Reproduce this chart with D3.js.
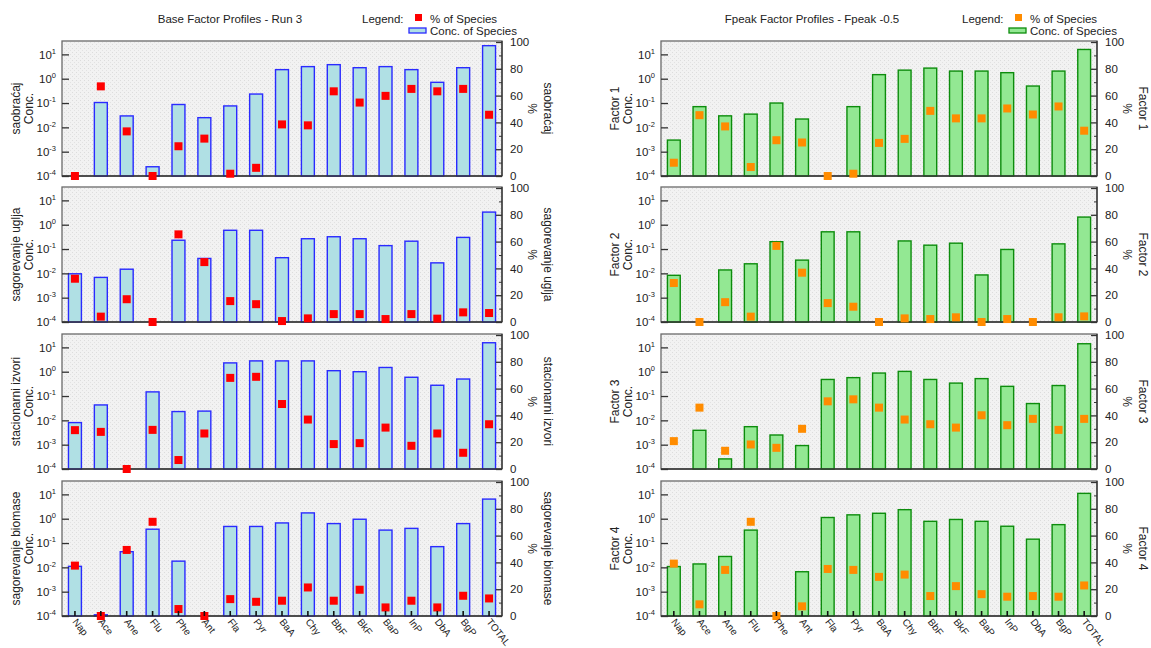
<!DOCTYPE html>
<html lang="en">
<head>
<meta charset="UTF-8">
<title>Factor Profiles</title>
<script src="https://d3js.org/d3.v7.min.js"></script>
<style>
  body { margin: 0; background: #fff; }
  svg { display: block; font-family: Arial, "Liberation Sans", sans-serif; }
  text { fill: #222; }
</style>
</head>
<body>
<svg id="chart" width="1151" height="648"></svg>
<script>
const species = ["Nap","Ace","Ane","Flu","Phe","Ant","Fla","Pyr","BaA","Chy","BbF","BkF","BaP","InP","DbA","BgP","TOTAL"];

// Base Factor Profiles - Run 3 (conc. on log axis, % of species on right axis)
const baseNames = ["saobraćaj", "sagorevanje uglja", "stacionarni izvori", "sagorevanje biomase"];
const saobracajConc = [null, 0.105, 0.0295, 0.00024, 0.087, 0.025, 0.076, 0.234, 2.36, 3.14, 3.78, 2.83, 3.14, 2.36, 0.71, 2.83, 22.8];
const saobracajPct  = [0, 66.9, 33.3, 0, 22.2, 27.9, 1.7, 6.1, 38.5, 37.8, 63.2, 54.8, 59.8, 65, 63.2, 65, 45.7];
const ugljaConc = [0.0096, 0.0068, 0.0148, null, 0.23, 0.041, 0.59, 0.59, 0.044, 0.265, 0.32, 0.265, 0.138, 0.21, 0.027, 0.30, 3.3];
const ugljaPct  = [32.3, 4, 17, 0, 65.4, 44.7, 15.6, 13.3, 0.7, 2.7, 5.9, 5.9, 2.2, 5.9, 2.5, 7.2, 6.7];
const stacionarniConc = [0.0081, 0.043, null, 0.148, 0.023, 0.024, 2.3, 2.78, 2.78, 2.78, 1.1, 1.0, 1.49, 0.59, 0.277, 0.5, 15.5];
const stacionarniPct  = [29, 27.7, 0, 29.2, 6.7, 26.5, 68, 68.8, 48.5, 36.9, 18.6, 19.3, 30.9, 17.3, 26.5, 12.1, 33.4];
const biomaseConc = [0.011, 0.000112, 0.044, 0.37, 0.018, null, 0.48, 0.48, 0.67, 1.73, 0.63, 0.95, 0.34, 0.40, 0.071, 0.63, 6.4];
const biomasePct  = [37.6, 0, 49.3, 70.3, 5.2, 0, 12.6, 10.6, 11.4, 21.3, 11.4, 19.6, 6.4, 11.4, 6.4, 15.1, 13.1];

// Fpeak Factor Profiles - Fpeak -0.5
const fpeakNames = ["Factor 1", "Factor 2", "Factor 3", "Factor 4"];
const factor1Conc = [0.003, 0.071, 0.0297, 0.035, 0.1, 0.022, null, 0.071, 1.47, 2.25, 2.73, 2.06, 2.06, 1.77, 0.5, 2.06, 15.9];
const factor1Pct  = [9.9, 45.4, 37, 6.7, 26.7, 25, 0, 1.7, 24.7, 27.7, 48.6, 43, 43, 50.4, 45.9, 51.9, 33.8];
const factor2Conc = [0.0083, null, 0.0138, 0.0247, 0.2, 0.035, 0.51, 0.51, null, 0.215, 0.144, 0.174, 0.0086, 0.096, null, 0.163, 2.06];
const factor2Pct  = [29.1, 0, 14.8, 4, 56.8, 36.8, 14.1, 11.4, 0, 2.7, 2.2, 3.5, 0, 2.2, 0, 3.5, 4.2];
const factor3Conc = [null, 0.0039, 0.00026, 0.0055, 0.0025, 0.00092, 0.48, 0.57, 0.88, 1.03, 0.48, 0.34, 0.52, 0.25, 0.049, 0.27, 14.1];
const factor3Pct  = [20.8, 45.8, 13.6, 18.3, 15.8, 30, 50.5, 52, 45.8, 36.9, 33.4, 30.9, 40.1, 32.7, 37.4, 29.2, 37.4];
const factor4Conc = [0.0108, 0.0138, 0.028, 0.34, null, 0.0066, 1.12, 1.44, 1.67, 2.35, 0.78, 0.93, 0.78, 0.49, 0.144, 0.57, 11];
const factor4Pct  = [39.1, 8.7, 34.4, 70.3, 0, 7.2, 35.1, 34.4, 29.2, 30.9, 14.9, 22.3, 16.3, 14.4, 14.9, 14.4, 22.8];

const decades = [1e-4, 1e-3, 1e-2, 1e-1, 1, 10];
const panelTops = [41, 187, 334, 481];
const panelH = 135;

const svg = d3.select("#chart");

// dithered grey plot background
const pat = svg.append("defs").append("pattern")
  .attr("id", "dots").attr("width", 4).attr("height", 4)
  .attr("patternUnits", "userSpaceOnUse");
pat.append("rect").attr("width", 4).attr("height", 4).attr("fill", "#f2f2f2");
pat.append("rect").attr("x", 0).attr("y", 0).attr("width", 1).attr("height", 1).attr("fill", "#dcdcdc");
pat.append("rect").attr("x", 2).attr("y", 2).attr("width", 1).attr("height", 1).attr("fill", "#e2e2e2");

function drawPanel(p) {
  const top = p.top, bottom = p.top + panelH;
  const g = svg.append("g");

  const x = d3.scaleBand().domain(species).range([p.x0, p.x1])
    .paddingInner(0.5).paddingOuter(0.25);
  const y = d3.scaleLog().domain([1e-4, Math.pow(10, 1.55)]).range([bottom, top]);
  const yp = d3.scaleLinear().domain([0, 100]).range([bottom, top + 1]);

  g.append("rect")
    .attr("x", p.x0).attr("y", top)
    .attr("width", p.x1 - p.x0).attr("height", panelH)
    .attr("fill", "url(#dots)")
    .attr("stroke", "#6a6a6a").attr("stroke-width", 1.3);

  // bars
  g.append("g").selectAll("rect")
    .data(species.map((s, i) => ({ s, v: p.conc[i] })).filter(d => d.v != null && d.v > 1e-4))
    .join("rect")
      .attr("x", d => x(d.s))
      .attr("y", d => y(d.v))
      .attr("width", x.bandwidth())
      .attr("height", d => bottom - y(d.v))
      .attr("fill", p.fill)
      .attr("stroke", p.stroke)
      .attr("stroke-width", 1.4);

  // frame right / bottom
  g.append("line").attr("x1", p.x1).attr("x2", p.x1).attr("y1", top).attr("y2", bottom)
    .attr("stroke", "#333").attr("stroke-width", 1.3);
  g.append("line").attr("x1", p.x0).attr("x2", p.x1).attr("y1", bottom).attr("y2", bottom)
    .attr("stroke", "#333").attr("stroke-width", 1.3);

  // left log axis
  const ax = g.append("g").attr("transform", `translate(${p.x0},0)`)
    .call(d3.axisLeft(y).tickValues(decades).tickSizeInner(-7).tickSizeOuter(0).tickPadding(6));
  ax.select(".domain").remove();
  ax.selectAll(".tick line").attr("stroke", "#333").attr("stroke-width", 1.3);
  ax.selectAll(".tick text").each(function(d) {
    const t = d3.select(this).text(null).attr("font-size", 11.5).attr("fill", "#222");
    t.append("tspan").text("10");
    t.append("tspan").attr("font-size", 7.5).attr("dy", -5).text(Math.round(Math.log10(d)));
  });

  // right % axis
  const axm = g.append("g").attr("transform", `translate(${p.x1},0)`)
    .call(d3.axisRight(yp).tickValues(d3.range(10, 100, 20)).tickSizeInner(-3).tickSizeOuter(0).tickFormat(""));
  axm.select(".domain").remove();
  axm.selectAll(".tick line").attr("stroke", "#333");
  const axr = g.append("g").attr("transform", `translate(${p.x1},0)`)
    .call(d3.axisRight(yp).tickValues(d3.range(0, 101, 20)).tickSizeInner(-6).tickSizeOuter(0).tickPadding(8));
  axr.select(".domain").remove();
  axr.selectAll(".tick line").attr("stroke", "#333").attr("stroke-width", 1.3);
  axr.selectAll(".tick text").attr("font-size", 11.5).attr("fill", "#222");

  // % squares
  g.append("g").selectAll("rect")
    .data(species.map((s, i) => ({ s, v: p.pct[i] })))
    .join("rect")
      .attr("x", d => x(d.s) + x.bandwidth() / 2 - 4)
      .attr("y", d => yp(d.v) - 4)
      .attr("width", 8).attr("height", 8)
      .attr("fill", p.dot);

  // axis titles
  const cy = (top + bottom) / 2;
  g.append("text").attr("transform", `translate(${p.x0 - 42},${cy}) rotate(-90)`)
    .attr("text-anchor", "middle").attr("font-size", 12).text(p.name);
  g.append("text").attr("transform", `translate(${p.x0 - 29},${cy}) rotate(-90)`)
    .attr("text-anchor", "middle").attr("font-size", 12).text("Conc.");
  g.append("text").attr("transform", `translate(${p.x1 + 26},${cy}) rotate(90)`)
    .attr("text-anchor", "middle").attr("font-size", 12).text("%");
  g.append("text").attr("transform", `translate(${p.x1 + 42},${cy}) rotate(90)`)
    .attr("text-anchor", "middle").attr("font-size", 12).text(p.name);

  if (p.showX) {
    g.append("g").selectAll("line").data(species).join("line")
      .attr("x1", d => x(d) + x.bandwidth() / 2).attr("x2", d => x(d) + x.bandwidth() / 2)
      .attr("y1", bottom).attr("y2", bottom - 5)
      .attr("stroke", "#111").attr("stroke-width", 1.6);
    g.append("g").selectAll("text").data(species).join("text")
      .attr("transform", d => `translate(${x(d) + x.bandwidth() / 2 - 3},${bottom + 6}) rotate(52)`)
      .attr("font-size", 10)
      .text(d => d);
  }
}

const baseConc = [saobracajConc, ugljaConc, stacionarniConc, biomaseConc];
const basePct = [saobracajPct, ugljaPct, stacionarniPct, biomasePct];
const fpeakConc = [factor1Conc, factor2Conc, factor3Conc, factor4Conc];
const fpeakPct = [factor1Pct, factor2Pct, factor3Pct, factor4Pct];

panelTops.forEach((top, i) => {
  drawPanel({ x0: 62, x1: 502, top, conc: baseConc[i], pct: basePct[i], name: baseNames[i],
    fill: "#b0e0e4", stroke: "#2a2aff", dot: "#ff0000", showX: i === 3 });
  drawPanel({ x0: 661, x1: 1097, top, conc: fpeakConc[i], pct: fpeakPct[i], name: fpeakNames[i],
    fill: "#93e893", stroke: "#0c8c0c", dot: "#ff8c00", showX: i === 3 });
});

// titles and legends
function header(cx, title, lx, fill, stroke, dot) {
  svg.append("text").attr("x", cx).attr("y", 23).attr("text-anchor", "middle")
    .attr("font-size", 11.5).text(title);
  svg.append("text").attr("x", lx).attr("y", 23).attr("font-size", 11.5).text("Legend:");
  svg.append("rect").attr("x", lx + 53).attr("y", 14).attr("width", 7).attr("height", 7).attr("fill", dot);
  svg.append("text").attr("x", lx + 68).attr("y", 23).attr("font-size", 11.5).text("% of Species");
  svg.append("rect").attr("x", lx + 47).attr("y", 28).attr("width", 17).attr("height", 5)
    .attr("fill", fill).attr("stroke", stroke).attr("stroke-width", 1.3);
  svg.append("text").attr("x", lx + 68).attr("y", 35).attr("font-size", 11.5).text("Conc. of Species");
}
header(230, "Base Factor Profiles - Run 3", 362, "#b0e0e4", "#2a2aff", "#ff0000");
header(812, "Fpeak Factor Profiles - Fpeak -0.5", 962, "#93e893", "#0c8c0c", "#ff8c00");
</script>
</body>
</html>
